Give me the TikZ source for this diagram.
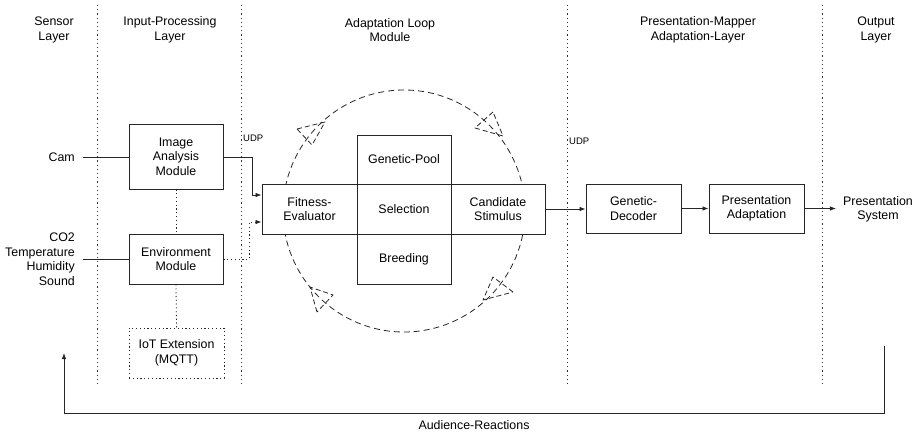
\documentclass[tikz,border=0pt]{standalone}
\usepackage{fontspec}
\setmainfont{Liberation Sans}
\usetikzlibrary{arrows.meta}
\begin{document}
\begin{tikzpicture}[x=1pt,y=-1pt,
  every node/.style={font=\fontsize{12.4}{14.5}\selectfont, align=center, inner sep=0pt},
  box/.style={draw=black!85, line width=0.9pt},
  conn/.style={draw=black!85, line width=0.8pt},
  arr/.style={conn, -{Latex[length=6pt,width=4.5pt]}},
  dotline/.style={draw=black!85, line width=0.8pt, dash pattern=on 1.2pt off 2.6pt},
  laydiv/.style={draw=black!80, line width=0.8pt, dash pattern=on 1.2pt off 3pt},
  loopline/.style={draw=black!85, line width=0.8pt, dash pattern=on 6pt off 4pt},
  looptip/.style={draw=black!85, line width=0.8pt, dash pattern=on 5pt off 3pt, line join=round},
  small/.style={font=\fontsize{9.5}{11}\selectfont}
]
\useasboundingbox (0,0) rectangle (918,433);

% layer dividers
\draw[laydiv] (97,5) -- (97,385);
\draw[laydiv] (241,5) -- (241,385);
\draw[laydiv] (567,5) -- (567,385);
\draw[laydiv] (822,5) -- (822,385);

% titles
\node (t1) at (54,30) {Sensor\\Layer};
\node (t2) at (170,30) {Input-Processing\\Layer};
\node (t3) at (390,30) {Adaptation Loop\\Module};
\node (t4) at (698,30) {Presentation-Mapper\\Adaptation-Layer};
\node (t5) at (876,30) {Output\\Layer};

% loop circle
\draw[loopline] (404,211) circle (121pt);
\draw[looptip] (297,129) -- (325,122) -- (312,145) -- cycle;
\draw[looptip] (493,112) -- (475,128) -- (503,136) -- cycle;
\draw[looptip] (513,292) -- (493,277) -- (483,300) -- cycle;
\draw[looptip] (317,312) -- (310,287) -- (333,295) -- cycle;

% input side
\node (cam) [anchor=east] at (75,157) {Cam};
\node (sens) [anchor=east, align=right] at (75,259) {CO2\\Temperature\\Humidity\\Sound};
\node (img) [box, minimum width=94pt, minimum height=65pt] at (176,156.5) {Image\\Analysis\\Module};
\node (env) [box, minimum width=94pt, minimum height=50pt] at (176,259) {Environment\\Module};
\node (iot) [dotline, minimum width=95pt, minimum height=50pt] at (176.5,353) {IoT Extension\\(MQTT)};

% central cross
\node (fit) [box, fill=white, minimum width=95pt, minimum height=50pt] at (309.5,209) {Fitness-\\Evaluator};
\node (sel) [box, fill=white, minimum width=94pt, minimum height=50pt] at (404,209) {Selection};
\node (cand) [box, fill=white, minimum width=94pt, minimum height=50pt] at (498,209) {Candidate\\Stimulus};
\node (pool) [box, fill=white, minimum width=94pt, minimum height=49pt] at (404,159.5) {Genetic-Pool};
\node (breed) [box, fill=white, minimum width=94pt, minimum height=50pt] at (404,259) {Breeding};

% output side
\node (dec) [box, minimum width=95pt, minimum height=49pt] at (633.5,208.5) {Genetic-\\Decoder};
\node (pad) [box, minimum width=95pt, minimum height=49pt] at (756.5,208.5) {Presentation\\Adaptation};
\node (psys) at (878,209.5) {Presentation\\System};

\node (udp1) [small, anchor=west] at (243,138) {UDP};
\node (udp2) [small, anchor=west] at (569,141) {UDP};

% connectors
\draw[conn] ([xshift=8pt]cam.east) -- (img.west |- cam.east);
\draw[conn] ([xshift=8pt]sens.east) -- (env.west |- sens.east);
\draw[dotline] (img.south) -- (env.north);
\draw[dotline] (env.south) -- (iot.north);
\draw[arr] (img.east |- cam.east) -- ++(29,0) |- ([yshift=14pt]fit.west);
\draw[dotline, -{Latex[length=6pt,width=4.5pt]}] (env.east) -- ++(26,0) |- ([yshift=-13pt]fit.west);
\draw[arr] (cand.east) -- (dec.west |- cand.east);
\draw[arr] (dec.east) -- (pad.west);
\draw[arr] (pad.east) -- ([xshift=-7pt]psys.west |- pad.east);

% audience feedback
\coordinate (fbstart) at (884,346);
\coordinate (fbend) at (64,353);
\draw[arr] (fbstart) -- (884,413) -| (fbend);
\node (aud) at (474,425) {Audience-Reactions};
\end{tikzpicture}
\end{document}
